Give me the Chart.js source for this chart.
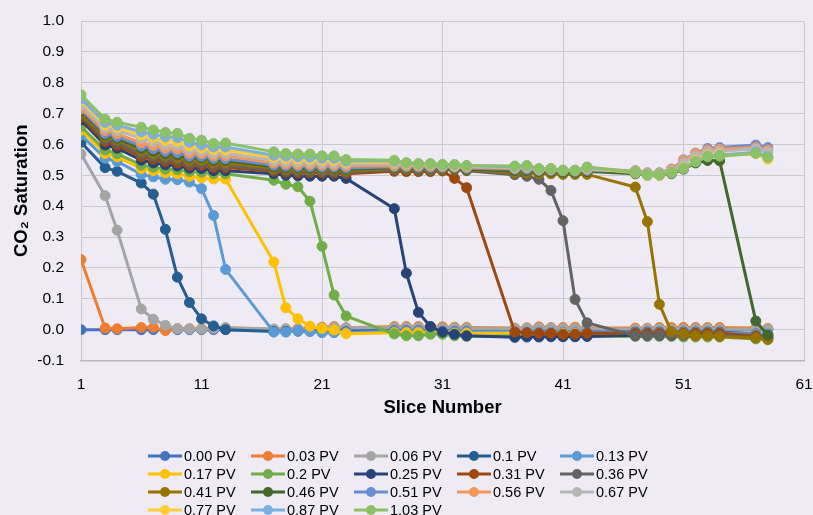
<!DOCTYPE html>
<html>
<head>
<meta charset="utf-8">
<script src="https://cdn.jsdelivr.net/npm/chart.js@4"></script>
<style>
  html, body { margin: 0; padding: 0; background: #EFEBF5; }
  #wrap { width: 813px; height: 515px; overflow: hidden; }
</style>
</head>
<body>
<div id="wrap"><canvas id="chart" width="813" height="515"></canvas></div>
<script>
// Slice positions where saturation was measured
const slices = [1,3,4,6,7,8,9,10,11,12,13,17,18,19,20,21,22,23,27,28,29,30,31,32,33,37,38,39,40,41,42,43,47,48,49,50,51,52,53,54,57,58];

// Injected pore volumes (legend labels)
const seriesNames = ['0.00 PV','0.03 PV','0.06 PV','0.1 PV','0.13 PV','0.17 PV','0.2 PV','0.25 PV','0.31 PV','0.36 PV','0.41 PV','0.46 PV','0.51 PV','0.56 PV','0.67 PV','0.77 PV','0.87 PV','1.03 PV'];

const seriesColors = ['#4472C4','#ED7D31','#A5A5A5','#255E91','#5B9BD5','#FFC000','#70AD47','#264478','#9E480E','#636363','#997300','#43682B','#698ED0','#F1975A','#B7B7B7','#FFCD33','#7CAFDD','#8CC168'];

// CO2 saturation per slice, one array per injected volume
const pv000 = [0.000,0.000,0.000,0.000,0.000,0.000,0.000,0.000,0.000,0.000,0.000,
  -0.003,-0.003,-0.002,-0.002,-0.003,-0.004,-0.004,
  0.002,0.002,0.002,0.001,0.001,0.000,0.000,
  -0.004,-0.004,-0.004,-0.004,-0.005,-0.005,-0.004,
  -0.002,-0.002,-0.002,-0.002,-0.002,-0.002,-0.002,-0.002,
  0.000,0.000];
const pv003 = [0.227,0.005,0.003,0.007,0.007,-0.003,0.003,0.003,0.003,0.005,0.006,
  0.001,0.002,0.003,0.005,0.008,0.010,0.006,
  0.010,0.010,0.010,0.009,0.009,0.008,0.007,
  0.005,0.006,0.009,0.007,0.007,0.008,0.005,
  0.005,0.005,0.007,0.007,0.007,0.007,0.007,0.007,
  0.005,0.004];
const pv006 = [0.569,0.434,0.322,0.067,0.034,0.014,0.003,0.002,0.002,0.004,0.006,
  0.002,0.003,0.003,0.005,0.006,0.008,0.006,
  0.007,0.007,0.007,0.005,0.005,0.005,0.004,
  0.003,0.005,0.005,0.005,0.003,0.003,0.003,
  0.001,0.003,0.003,0.001,0.001,0.003,0.003,0.001,
  0.001,0.001];
const pv010 = [0.607,0.525,0.513,0.475,0.439,0.325,0.170,0.088,0.035,0.012,0.000,
  -0.006,-0.006,-0.005,-0.005,-0.006,-0.007,-0.007,
  -0.004,-0.004,-0.004,-0.005,-0.005,-0.006,-0.006,
  -0.010,-0.010,-0.010,-0.010,-0.011,-0.011,-0.010,
  -0.008,-0.008,-0.008,-0.008,-0.008,-0.008,-0.008,-0.008,
  -0.014,-0.015];
const pv013 = [0.631,0.555,0.545,0.503,0.495,0.487,0.486,0.478,0.457,0.370,0.195,
  -0.008,-0.008,-0.004,-0.006,-0.010,-0.010,-0.009,
  -0.005,-0.005,-0.005,-0.006,-0.006,-0.007,-0.007,
  -0.008,-0.008,-0.008,-0.009,-0.009,-0.009,-0.009,
  -0.010,-0.010,-0.010,-0.010,-0.010,-0.010,-0.010,-0.010,
  -0.015,-0.016];
const pv017 = [0.647,0.571,0.560,0.522,0.515,0.508,0.505,0.497,0.492,0.488,0.488,
  0.219,0.071,0.035,0.011,0.004,-0.001,-0.013,
  -0.010,-0.010,-0.010,-0.011,-0.011,-0.012,-0.012,
  -0.012,-0.012,-0.013,-0.013,-0.013,-0.013,-0.013,
  -0.014,-0.014,-0.014,-0.014,-0.014,-0.014,-0.014,-0.014,
  -0.020,-0.022];
const pv020 = [0.658,0.582,0.570,0.533,0.526,0.520,0.518,0.512,0.510,0.505,0.505,
  0.484,0.471,0.463,0.416,0.270,0.112,0.044,
  -0.014,-0.020,-0.020,-0.015,-0.015,-0.020,-0.022,
  -0.020,-0.020,-0.021,-0.021,-0.022,-0.022,-0.021,
  -0.022,-0.022,-0.022,-0.022,-0.024,-0.024,-0.024,-0.024,
  -0.030,-0.032];
const pv025 = [0.679,0.598,0.588,0.549,0.540,0.534,0.530,0.523,0.522,0.515,0.515,
  0.505,0.500,0.498,0.497,0.497,0.497,0.490,
  0.392,0.183,0.056,0.010,-0.008,-0.015,-0.020,
  -0.025,-0.024,-0.024,-0.023,-0.023,-0.023,-0.022,
  -0.018,-0.018,-0.018,-0.018,-0.018,-0.018,-0.018,-0.018,
  -0.025,-0.026];
const pv031 = [0.688,0.609,0.598,0.560,0.552,0.545,0.540,0.533,0.533,0.525,0.525,
  0.513,0.510,0.508,0.508,0.508,0.507,0.505,
  0.513,0.512,0.512,0.512,0.514,0.490,0.460,
  -0.008,-0.010,-0.012,-0.012,-0.015,-0.015,-0.012,
  -0.012,-0.012,-0.012,-0.012,-0.012,-0.012,-0.012,-0.012,
  -0.020,-0.021];
const pv036 = [0.696,0.617,0.607,0.569,0.561,0.554,0.550,0.540,0.540,0.533,0.532,
  0.518,0.515,0.514,0.513,0.513,0.512,0.510,
  0.518,0.518,0.517,0.517,0.518,0.518,0.515,
  0.502,0.497,0.487,0.451,0.353,0.098,0.022,
  -0.020,-0.020,-0.019,-0.019,-0.019,-0.019,-0.019,-0.019,
  -0.025,-0.026];
const pv041 = [0.701,0.625,0.615,0.579,0.570,0.563,0.558,0.549,0.549,0.540,0.540,
  0.523,0.520,0.519,0.518,0.518,0.517,0.515,
  0.522,0.520,0.520,0.520,0.520,0.520,0.518,
  0.508,0.508,0.505,0.505,0.503,0.503,0.503,
  0.462,0.350,0.082,-0.007,-0.015,-0.020,-0.020,-0.022,
  -0.027,-0.032];
const pv046 = [0.709,0.631,0.620,0.587,0.578,0.570,0.566,0.557,0.557,0.548,0.548,
  0.528,0.525,0.524,0.523,0.523,0.522,0.520,
  0.525,0.524,0.523,0.523,0.523,0.522,0.520,
  0.515,0.515,0.512,0.512,0.510,0.510,0.512,
  0.505,0.500,0.500,0.505,0.520,0.540,0.548,0.547,
  0.028,-0.018];
const pv051 = [0.714,0.636,0.626,0.595,0.586,0.578,0.574,0.562,0.562,0.555,0.554,
  0.533,0.530,0.529,0.528,0.527,0.527,0.524,
  0.528,0.527,0.526,0.526,0.526,0.525,0.523,
  0.520,0.520,0.516,0.516,0.514,0.513,0.516,
  0.515,0.508,0.508,0.520,0.550,0.572,0.587,0.590,
  0.598,0.590];
const pv056 = [0.718,0.645,0.635,0.605,0.597,0.588,0.585,0.572,0.571,0.563,0.563,
  0.540,0.537,0.535,0.535,0.534,0.533,0.530,
  0.532,0.531,0.530,0.530,0.529,0.528,0.526,
  0.523,0.525,0.518,0.518,0.516,0.516,0.520,
  0.515,0.508,0.507,0.520,0.548,0.570,0.582,0.585,
  0.590,0.582];
const pv067 = [0.728,0.654,0.645,0.620,0.610,0.600,0.597,0.583,0.579,0.572,0.572,
  0.548,0.545,0.543,0.543,0.541,0.540,0.536,
  0.538,0.536,0.534,0.534,0.532,0.531,0.529,
  0.525,0.527,0.520,0.520,0.517,0.517,0.522,
  0.513,0.506,0.505,0.515,0.540,0.562,0.575,0.578,
  0.585,0.575];
const pv077 = [0.742,0.663,0.655,0.631,0.622,0.613,0.610,0.595,0.589,0.583,0.582,
  0.558,0.555,0.553,0.552,0.549,0.548,0.542,
  0.543,0.539,0.536,0.536,0.534,0.533,0.530,
  0.527,0.529,0.521,0.521,0.516,0.516,0.523,
  0.508,0.500,0.500,0.508,0.525,0.548,0.565,0.568,
  0.570,0.552];
const pv087 = [0.748,0.671,0.662,0.641,0.633,0.625,0.622,0.607,0.598,0.592,0.592,
  0.565,0.562,0.560,0.559,0.555,0.555,0.546,
  0.546,0.540,0.537,0.537,0.534,0.534,0.531,
  0.528,0.530,0.521,0.521,0.516,0.516,0.525,
  0.510,0.502,0.502,0.508,0.523,0.545,0.562,0.565,
  0.575,0.560];
const pv103 = [0.761,0.682,0.672,0.656,0.647,0.639,0.636,0.620,0.614,0.603,0.605,
  0.576,0.571,0.569,0.569,0.563,0.563,0.551,
  0.549,0.541,0.538,0.538,0.535,0.535,0.532,
  0.530,0.532,0.522,0.522,0.516,0.516,0.527,
  0.511,0.503,0.503,0.509,0.522,0.544,0.560,0.562,
  0.571,0.558];

const seriesValues = [pv000,pv003,pv006,pv010,pv013,pv017,pv020,pv025,pv031,pv036,pv041,pv046,pv051,pv056,pv067,pv077,pv087,pv103];

// Axis ticks
const xTicks = { min: 1, max: 61, step: 10 };
const yTicks = { min: -0.1, max: 1.0, step: 0.1 };

const FONT = "'Liberation Sans', Arial, sans-serif";
Chart.defaults.font.family = FONT;

const GRID = '#CCC8D0';

const datasets = seriesNames.map((name, i) => ({
  label: name,
  data: slices.map((s, j) => ({ x: s, y: seriesValues[i][j] })),
  borderColor: seriesColors[i],
  backgroundColor: seriesColors[i],
  pointBackgroundColor: seriesColors[i],
  pointBorderColor: seriesColors[i],
  borderWidth: 3,
  pointRadius: 5,
  pointBorderWidth: 1,
  tension: 0,
  // later volumes are drawn on top
  order: seriesNames.length - i
}));

// Grid-style legend below the plot: five entries per row
const gridLegend = {
  id: 'gridLegend',
  afterDraw(chart) {
    const ctx = chart.ctx;
    const cols = 5, colW = 103, rowH = 18;
    const startX = (chart.width - cols * colW) / 2 - 1;
    const startY = 456;
    ctx.save();
    ctx.font = "14.5px " + FONT;
    ctx.textBaseline = 'middle';
    ctx.textAlign = 'left';
    chart.data.datasets.forEach((ds, i) => {
      const x = startX + (i % cols) * colW;
      const y = startY + Math.floor(i / cols) * rowH;
      ctx.strokeStyle = ds.borderColor;
      ctx.lineWidth = 3;
      ctx.beginPath();
      ctx.moveTo(x, y);
      ctx.lineTo(x + 34, y);
      ctx.stroke();
      ctx.fillStyle = ds.borderColor;
      ctx.beginPath();
      ctx.arc(x + 17, y, 5, 0, Math.PI * 2);
      ctx.fill();
      ctx.fillStyle = '#000';
      ctx.fillText(ds.label, x + 36, y + 0.5);
    });
    ctx.restore();
  }
};

new Chart(document.getElementById('chart'), {
  type: 'line',
  data: { datasets },
  options: {
    responsive: false,
    animation: false,
    devicePixelRatio: 1,
    layout: { padding: { left: 0, right: 9, top: 21, bottom: 84.5 } },
    plugins: { legend: { display: false }, tooltip: { enabled: false } },
    scales: {
      x: {
        type: 'linear',
        min: xTicks.min, max: xTicks.max,
        ticks: { stepSize: xTicks.step, color: '#000', font: { size: 15.5 }, padding: 14.5 },
        grid: { color: GRID, lineWidth: 1, drawTicks: false },
        border: { display: true, color: '#BAB6BF', width: 1.5 },
        title: { display: true, text: 'Slice Number', color: '#000', font: { size: 18.5, weight: 'bold' }, padding: { top: 0, bottom: 11 } },
        afterFit(scale) {
          scale.height = 70;
          scale.paddingLeft = 0;
          scale.paddingRight = 0;
        }
      },
      y: {
        min: yTicks.min, max: yTicks.max,
        ticks: {
          stepSize: yTicks.step, color: '#000', font: { size: 15.5 }, padding: 17,
          callback: v => { const t = Math.round(v * 10) / 10; return (Object.is(t, -0) ? 0 : t).toFixed(1); }
        },
        grid: { color: GRID, lineWidth: 1, drawTicks: false },
        border: { display: true, color: GRID, width: 1 },
        title: { display: true, text: 'CO\u2082 Saturation', color: '#000', font: { size: 18.5, weight: 'bold' }, padding: { top: 11, bottom: 0 } },
        afterFit(scale) { scale.width = 81; scale.paddingTop = 0; scale.paddingBottom = 0; }
      }
    }
  },
  plugins: [gridLegend]
});
</script>
</body>
</html>
